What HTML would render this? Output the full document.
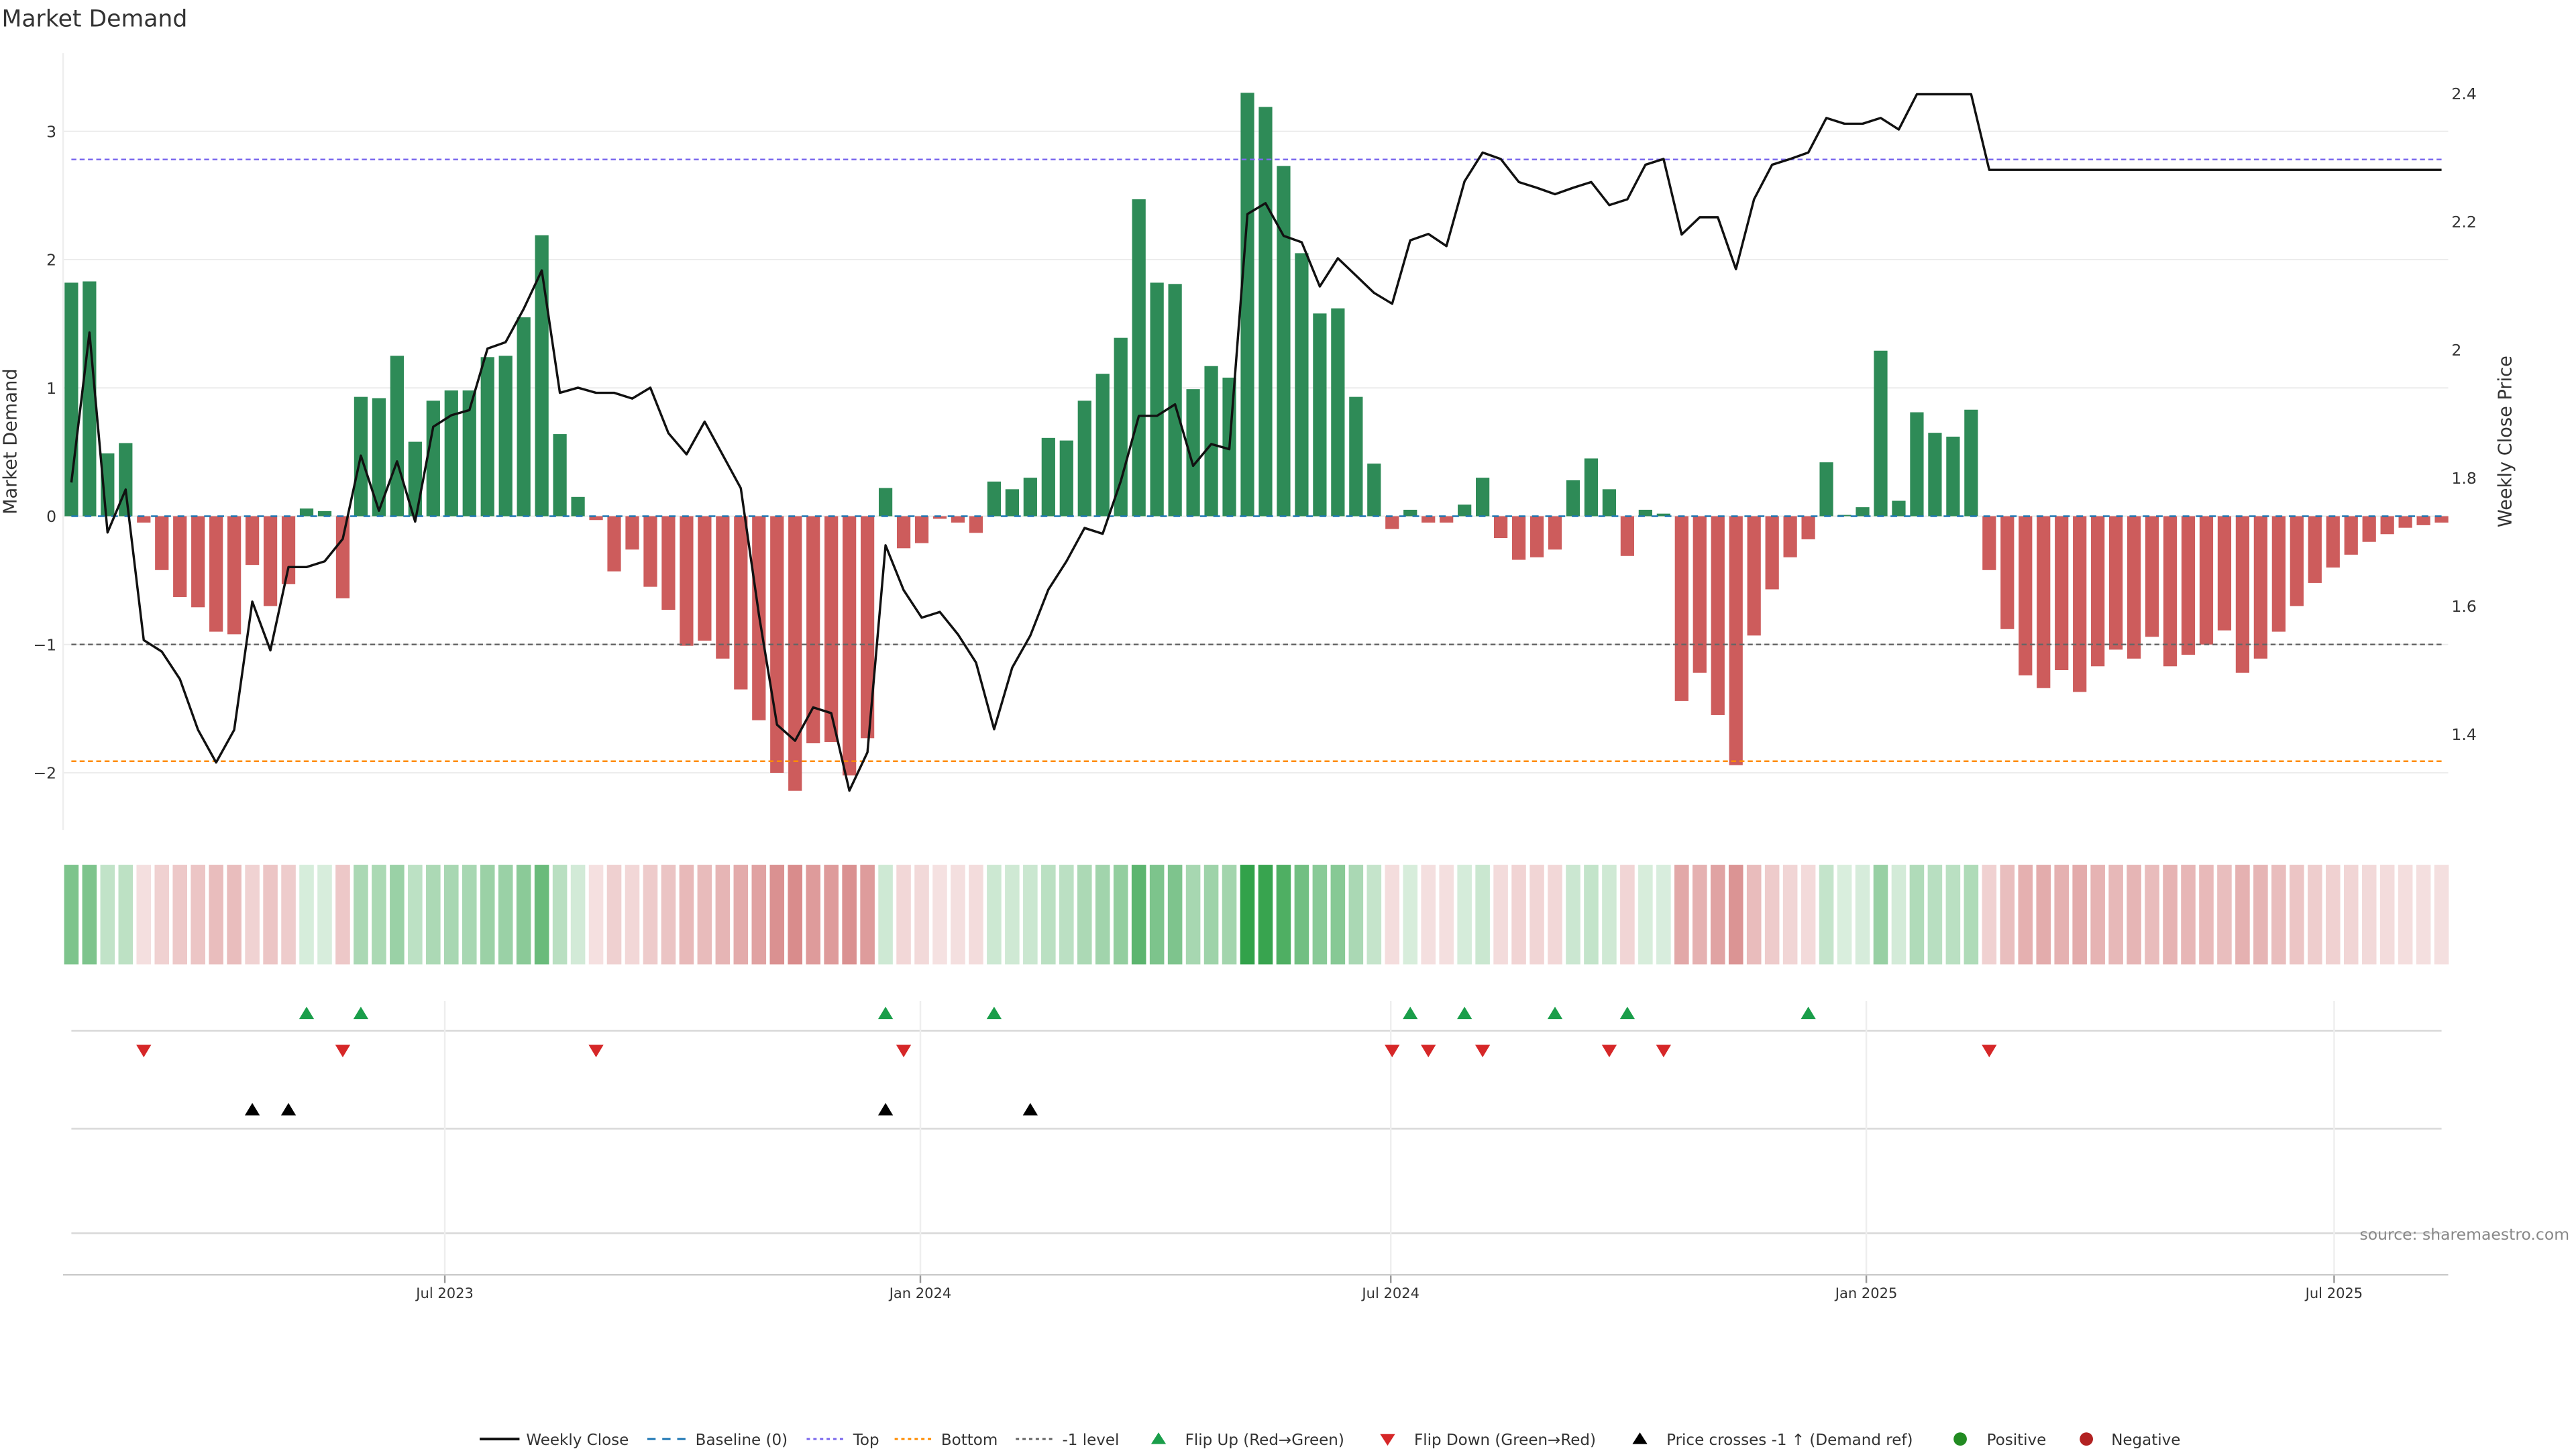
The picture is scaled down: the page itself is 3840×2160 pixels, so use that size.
<!DOCTYPE html>
<html><head><meta charset="utf-8"><style>
html,body{margin:0;padding:0;background:#fff;}
svg{display:block;font-family:"DejaVu Sans","Liberation Sans",sans-serif;}
</style></head><body>
<svg id="chart" xmlns="http://www.w3.org/2000/svg" width="3840" height="2160" viewBox="0 0 1552 873">
<rect x="0" y="0" width="1552" height="873" fill="#fff"/>
<text x="1" y="16" font-size="14" fill="#333">Market Demand</text>
<g id="grid"></g><g id="refs"></g><g id="bars"></g><g id="line"></g><g id="heat"></g><g id="marks"></g><g id="axes"></g>
<text transform="translate(10,266) rotate(-90)" text-anchor="middle" font-size="11" fill="#333">Market Demand</text>
<text transform="translate(1513,266) rotate(-90)" text-anchor="middle" font-size="11" fill="#333">Weekly Close Price</text>
<text x="1548" y="747" text-anchor="end" font-size="9.5" fill="#888">source: sharemaestro.com</text>
<g id="legend"></g>
</svg>
<script>
const demand = [1.82,1.83,0.49,0.57,-0.05,-0.42,-0.63,-0.71,-0.9,-0.92,-0.38,-0.7,-0.53,0.06,0.04,-0.64,0.93,0.92,1.25,0.58,0.9,0.98,0.98,1.24,1.25,1.55,2.19,0.64,0.15,-0.03,-0.43,-0.26,-0.55,-0.73,
-1.01,-0.97,-1.11,-1.35,-1.59,-2.0,-2.14,-1.77,-1.76,-2.02,-1.73,0.22,-0.25,-0.21,-0.02,-0.05,-0.13,0.27,0.21,0.3,0.61,0.59,0.9,1.11,1.39,2.47,1.82,1.81,0.99,1.17,1.08,3.3,3.19,
2.73,2.05,1.58,1.62,0.93,0.41,-0.1,0.05,-0.05,-0.05,0.09,0.3,-0.17,-0.34,-0.32,-0.26,0.28,0.45,0.21,-0.31,0.05,0.02,-1.44,-1.22,-1.55,-1.94,-0.93,-0.57,-0.32,-0.18,0.42,0.01,0.07,1.29,
0.12,0.81,0.65,0.62,0.83,-0.42,-0.88,-1.24,-1.34,-1.2,-1.37,-1.17,-1.04,-1.11,-0.94,-1.17,-1.08,-1.0,-0.89,-1.22,-1.11,-0.9,-0.7,-0.52,-0.4,-0.3,-0.2,-0.14,-0.09,-0.07,-0.05];
const price = [1.793,2.027,1.715,1.782,1.547,1.529,1.486,1.407,1.356,1.407,1.607,1.531,1.661,1.661,1.670,1.705,1.835,1.749,1.826,1.732,1.880,1.898,1.906,2.002,2.012,2.064,2.124,1.933,1.941,1.933,1.933,1.924,1.941,1.870,
1.837,1.888,1.836,1.784,1.587,1.415,1.390,1.442,1.433,1.312,1.372,1.695,1.625,1.582,1.591,1.556,1.512,1.408,1.504,1.554,1.626,1.670,1.722,1.713,1.795,1.897,1.897,1.915,1.819,1.853,1.845,2.212,2.229,
2.178,2.168,2.099,2.143,2.116,2.089,2.072,2.171,2.181,2.162,2.263,2.308,2.298,2.262,2.253,2.243,2.253,2.262,2.226,2.235,2.289,2.298,2.180,2.207,2.207,2.126,2.235,2.289,2.298,2.308,2.362,2.353,2.353,
2.362,2.344,2.399,2.399,2.399,2.399,2.281,2.281,2.281,2.281,2.281,2.281,2.281,2.281,2.281,2.281,2.281,2.281,2.281,2.281,2.281,2.281,2.281,2.281,2.281,2.281,2.281,2.281,2.281,2.281,2.281,2.281];
const flipUpIdx = [13,16,45,51,74,77,82,86,96];
const flipDownIdx = [4,15,29,46,73,75,78,85,88,106];
const crossIdx = [10,12,45,53];
const yTicks = [3,2,1,0,-1,-2];
const y2Ticks = [2.4,2.2,2,1.8,1.6,1.4];
const xTickLabels = ["Jul 2023","Jan 2024","Jul 2024","Jan 2025","Jul 2025"];
const xTickDays = [0,184,366,550,731];
const topLevel = 2.78, bottomLevel = -1.91, minusOne = -1;

const NS="http://www.w3.org/2000/svg";
const X0=43, X1=1471;
const step=(X1-X0)/(demand.length-1);
const xi=i=>X0+i*step;
const yL=v=>311-v*77.3;
const yR=p=>288-(p-1.8)*386;
const xd=d=>268+d*10.9/7;
function mk(tag,attrs,parent){const e=document.createElementNS(NS,tag);for(const k in attrs)e.setAttribute(k,attrs[k]);parent.appendChild(e);return e;}
const G=id=>document.getElementById(id);

yTicks.forEach(v=>{
  const l=mk('line',{x1:38,x2:1475,y1:yL(v),y2:yL(v),stroke:'#ececec','stroke-width':0.8},G('grid'));
  
  
  const t=mk('text',{x:34,y:yL(v)+3.5,'text-anchor':'end','font-size':9.5,fill:'#333'},G('axes'));
  t.textContent=(v<0?'\u2212':'')+Math.abs(v);
  
  
});
y2Ticks.forEach(p=>{
  const t=mk('text',{x:1477,y:yR(p)+3.5,'font-size':9.5,fill:'#333'},G('axes'));
  t.textContent=String(p);
  
  
});
mk('line',{x1:38,x2:38,y1:32,y2:500,stroke:'#eee','stroke-width':1},G('grid'));

demand.forEach((v,i)=>{
  const y=Math.min(yL(v),yL(0)), h=Math.abs(yL(v)-yL(0));
  const r=mk('rect',{x:xi(i)-step*0.375,y:y,width:step*0.75,height:Math.max(h,0.3),fill:v>=0?'#2e8b57':'#cd5c5c'},G('bars'));
  
  
});
const refs=[[yL(0),'#1f77b4','4,4','baseline-line'],[yL(topLevel),'#7b68ee','3,2','top-level-line'],[yL(bottomLevel),'#ff8c00','3,2','bottom-level-line'],[yL(minusOne),'#666','3,2','minus-one-level-line']];
refs.forEach(r=>{
  const l=mk('line',{x1:43,x2:1471,y1:r[0],y2:r[0],stroke:r[1],'stroke-width':1,'stroke-dasharray':r[2]},G('refs'));
  
  
});
G('refs').parentNode.insertBefore(G('bars'),G('refs'));
const pl=mk('polyline',{points:price.map((p,i)=>xi(i)+','+yR(p)).join(' '),fill:'none',stroke:'#111','stroke-width':1.4,'stroke-linejoin':'round'},G('line'));



function heatColor(v){const t=0.18+0.8*Math.min(Math.abs(v)/3.3,1);const b=v>=0?[46,160,70]:[200,90,90];return 'rgb('+b.map(c=>Math.round(255-t*(255-c))).join(',')+')';}
demand.forEach((v,i)=>{
  const r=mk('rect',{x:xi(i)-step*0.4,y:521,width:step*0.8,height:60,fill:heatColor(v)},G('heat'));
  
  
});

[621,680,743].forEach(y=>{
  const l=mk('line',{x1:43,x2:1471,y1:y,y2:y,stroke:'#d8d8d8','stroke-width':1},G('marks'));
  
  
});
xTickDays.forEach((d,k)=>{
  const x=xd(d);
  mk('line',{x1:x,x2:x,y1:603,y2:768,stroke:'#eeeeee','stroke-width':1},G('marks'));
  mk('line',{x1:x,x2:x,y1:768,y2:773,stroke:'#999','stroke-width':1},G('axes'));
  const t=mk('text',{x:x,y:782,'text-anchor':'middle','font-size':8.5,fill:'#333'},G('axes'));
  t.textContent=xTickLabels[k];
  
  
});
mk('line',{x1:38,x2:1475,y1:768,y2:768,stroke:'#ccc','stroke-width':1},G('axes'));
function tri(x,y,up,color,name){
  const p=up?`${x-4.5},${y+4} ${x+4.5},${y+4} ${x},${y-3.5}`:`${x-4.5},${y-3.5} ${x+4.5},${y-3.5} ${x},${y+4}`;
  const e=mk('polygon',{points:p,fill:color},G('marks'));
  
  
}
flipUpIdx.forEach(i=>tri(xi(i),610,true,'#1a9e4a','flip-up-marker'));
flipDownIdx.forEach(i=>tri(xi(i),633,false,'#d62728','flip-down-marker'));
crossIdx.forEach(i=>tri(xi(i),668,true,'#000','price-cross-marker'));

const L=G('legend');const ly=867;
function lt(x,txt){const t=mk('text',{x:x,y:ly+3.5,'font-size':9.3,fill:'#333'},L);t.textContent=txt;}
mk('line',{x1:289,x2:313,y1:ly,y2:ly,stroke:'#111','stroke-width':1.6},L);lt(317,'Weekly Close');
mk('line',{x1:390,x2:414,y1:ly,y2:ly,stroke:'#1f77b4','stroke-width':1.2,'stroke-dasharray':'5,4'},L);lt(419,'Baseline (0)');
mk('line',{x1:486,x2:510,y1:ly,y2:ly,stroke:'#7b68ee','stroke-width':1.2,'stroke-dasharray':'2,2'},L);lt(514,'Top');
mk('line',{x1:539,x2:563,y1:ly,y2:ly,stroke:'#ff8c00','stroke-width':1.2,'stroke-dasharray':'2,2'},L);lt(567,'Bottom');
mk('line',{x1:612,x2:636,y1:ly,y2:ly,stroke:'#666','stroke-width':1.2,'stroke-dasharray':'2,2'},L);lt(640,'-1 level');
mk('polygon',{points:`693.5,${ly+3} 702.5,${ly+3} 698,${ly-4}`,fill:'#1a9e4a'},L);lt(714,'Flip Up (Red\u2192Green)');
mk('polygon',{points:`831.5,${ly-3} 840.5,${ly-3} 836,${ly+4}`,fill:'#d62728'},L);lt(852,'Flip Down (Green\u2192Red)');
mk('polygon',{points:`983.5,${ly+3} 992.5,${ly+3} 988,${ly-4}`,fill:'#000'},L);lt(1004,'Price crosses -1 \u2191 (Demand ref)');
mk('circle',{cx:1181,cy:ly,r:4,fill:'#228b22'},L);lt(1197,'Positive');
mk('circle',{cx:1257,cy:ly,r:4,fill:'#b22222'},L);lt(1272,'Negative');
</script>
</body></html>
